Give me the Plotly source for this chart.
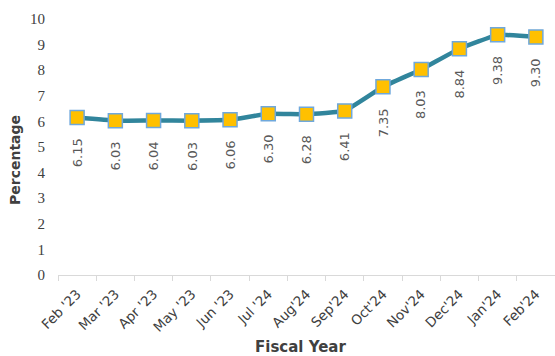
import plotly.graph_objects as go

months = ["Feb '23", "Mar '23", "Apr '23", "May '23", "Jun '23", "Jul '24", "Aug'24",
          "Sep'24", "Oct'24", "Nov'24", "Dec'24", "Jan'24", "Feb'24"]
values = [6.15, 6.03, 6.04, 6.03, 6.06, 6.30, 6.28, 6.41, 7.35, 8.03, 8.84, 9.38, 9.30]
y_ticks = list(range(0, 11))

W, H = 555, 356
fig = go.Figure()
fig.add_trace(go.Scatter(
    x=months, y=values, mode="lines+markers",
    line=dict(color="#31859C", width=4.5, shape="spline", smoothing=0.3),
    marker=dict(symbol="square", size=14, color="#FFC000",
                line=dict(color="#6FA8DC", width=1.5)),
    showlegend=False, cliponaxis=False,
))

for m, v in zip(months, values):
    fig.add_annotation(x=m, y=v, text=f"{v:.2f}", textangle=-90, showarrow=False,
                       xanchor="center", yanchor="top", yshift=-19,
                       font=dict(family="DejaVu Sans", size=13, color="#595959"))

fig.add_annotation(text="<b>Fiscal Year</b>", xref="paper", yref="paper",
                   x=(300 - 58) / (W - 58), y=-(347 - 275) / (275 - 19),
                   xanchor="center", yanchor="middle", showarrow=False,
                   font=dict(family="DejaVu Sans", size=15, color="#404040"))
fig.add_annotation(text="<b>Percentage</b>", xref="paper", yref="paper", textangle=-90,
                   x=-(58 - 15) / (W - 58), y=(275 - 160) / (275 - 19),
                   xanchor="center", yanchor="middle", showarrow=False,
                   font=dict(family="DejaVu Sans", size=14, color="#404040"))

fig.update_layout(
    width=W, height=H,
    margin=dict(l=58, r=0, t=19, b=81),
    plot_bgcolor="white", paper_bgcolor="white",
    xaxis=dict(
        type="category", range=[-0.5, len(months) - 0.5],
        tickangle=-45, tickson="boundaries", ticks="outside",
        ticklen=5, tickcolor="#D9D9D9", showline=True, linecolor="#D9D9D9",
        showgrid=False, automargin=False, ticklabelstandoff=5,
        tickfont=dict(family="DejaVu Sans", size=13.5, color="#404040"),
    ),
    yaxis=dict(
        range=[0, 10], tickvals=y_ticks, showgrid=False, zeroline=False,
        showline=False, ticks="", ticklabelstandoff=12, automargin=False,
        tickfont=dict(family="Liberation Serif", size=15, color="#404040"),
    ),
)

fig.write_html("out.html")
